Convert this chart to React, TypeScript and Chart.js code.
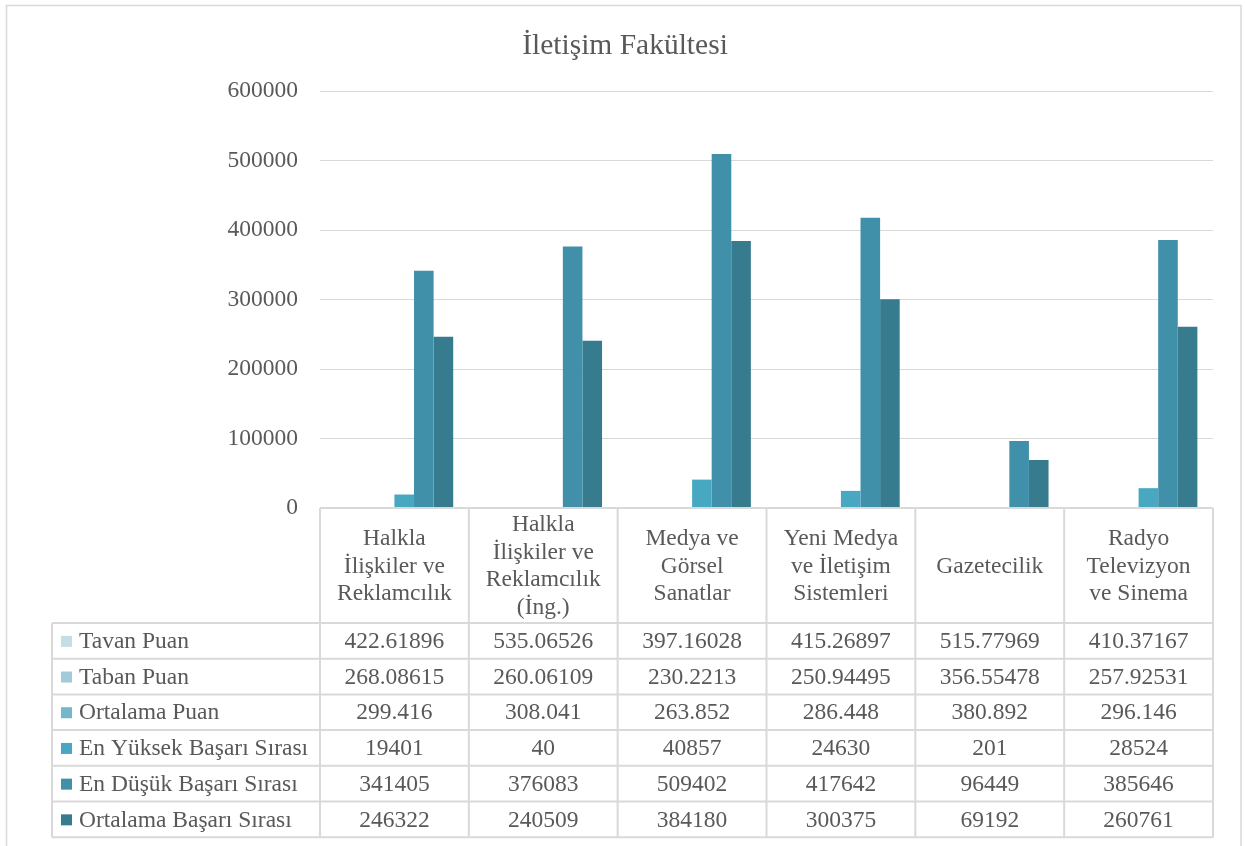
import React, { useEffect, useRef } from "react";
import { Chart, registerables } from "chart.js";

Chart.register(...registerables);

const chartTitle = "İletişim Fakültesi";
const categories: string[][] = [
  ["Halkla", "İlişkiler ve", "Reklamcılık"],
  ["Halkla", "İlişkiler ve", "Reklamcılık", "(İng.)"],
  ["Medya ve", "Görsel", "Sanatlar"],
  ["Yeni Medya", "ve İletişim", "Sistemleri"],
  ["Gazetecilik"],
  ["Radyo", "Televizyon", "ve Sinema"],
];
const seriesNames = [
  "Tavan Puan",
  "Taban Puan",
  "Ortalama Puan",
  "En Yüksek Başarı Sırası",
  "En Düşük Başarı Sırası",
  "Ortalama Başarı Sırası",
];
const tavanPuan = [422.61896, 535.06526, 397.16028, 415.26897, 515.77969, 410.37167];
const tabanPuan = [268.08615, 260.06109, 230.2213, 250.94495, 356.55478, 257.92531];
const ortalamaPuan = [299.416, 308.041, 263.852, 286.448, 380.892, 296.146];
const enYuksekSira = [19401, 40, 40857, 24630, 201, 28524];
const enDusukSira = [341405, 376083, 509402, 417642, 96449, 385646];
const ortalamaSira = [246322, 240509, 384180, 300375, 69192, 260761];
const seriesColors = ["#c5dde4", "#a3cad8", "#74b7cb", "#49a8c1", "#4190aa", "#367b8e"];
const yMin = 0;
const yMax = 600000;
const yStep = 100000;

const seriesValues = [tavanPuan, tabanPuan, ortalamaPuan, enYuksekSira, enDusukSira, ortalamaSira];

const FONT = "'Liberation Serif', 'Times New Roman', serif";
const TEXT = "#595959";
const LINE = "#d9d9d9";
const TABLE_FONT_SIZE = 23.5;

const tablePlugin = {
  id: "dataTable",
  beforeDraw(chart: any) {
    const ctx = chart.ctx;
    ctx.save();
    ctx.fillStyle = "#ffffff";
    ctx.fillRect(0, 0, chart.width, chart.height);
    ctx.restore();
  },
  afterDraw(chart: any) {
    const ctx = chart.ctx as CanvasRenderingContext2D;
    const area = chart.chartArea;
    const xs = chart.scales.x;
    const n = categories.length;
    const colW = (area.right - area.left) / n;
    const top = area.bottom;
    const headerH = 115;
    const rowH = 35.7;
    const legendLeft = 52;
    const bottom = top + headerH + rowH * seriesNames.length;

    ctx.save();
    // outer border
    ctx.strokeStyle = LINE;
    ctx.lineWidth = 1.5;
    ctx.strokeRect(6.5, 5.5, 1234.5, 900);

    // title
    ctx.fillStyle = TEXT;
    ctx.font = `29.5px ${FONT}`;
    ctx.textAlign = "center";
    ctx.textBaseline = "middle";
    ctx.fillText(chartTitle, 625, 46);

    // table lines
    ctx.strokeStyle = LINE;
    ctx.lineWidth = 2;
    ctx.beginPath();
    ctx.moveTo(area.left, top);
    ctx.lineTo(area.right, top);
    for (let r = 0; r <= seriesNames.length; r++) {
      const y = top + headerH + r * rowH;
      ctx.moveTo(legendLeft, y);
      ctx.lineTo(area.right, y);
    }
    ctx.moveTo(legendLeft, top + headerH);
    ctx.lineTo(legendLeft, bottom);
    for (let i = 0; i <= n; i++) {
      const x = area.left + i * colW;
      ctx.moveTo(x, top);
      ctx.lineTo(x, bottom);
    }
    ctx.stroke();

    // header text
    ctx.fillStyle = TEXT;
    ctx.font = `${TABLE_FONT_SIZE}px ${FONT}`;
    ctx.textAlign = "center";
    ctx.textBaseline = "middle";
    const lh = 27.5;
    categories.forEach((lines, i) => {
      const cx = xs.getPixelForValue(i);
      const cy = top + headerH / 2 + 1;
      const start = cy - ((lines.length - 1) * lh) / 2;
      lines.forEach((ln, k) => ctx.fillText(ln, cx, start + k * lh));
    });

    // rows
    seriesNames.forEach((name, r) => {
      const cy = top + headerH + r * rowH + rowH / 2 + 1;
      ctx.fillStyle = seriesColors[r];
      ctx.fillRect(legendLeft + 9, cy - 6, 11, 11);
      ctx.fillStyle = TEXT;
      ctx.textAlign = "left";
      ctx.fillText(name, legendLeft + 27, cy);
      ctx.textAlign = "center";
      seriesValues[r].forEach((v, i) => {
        ctx.fillText(String(v), xs.getPixelForValue(i), cy);
      });
    });
    ctx.restore();
  },
};

export default function App() {
  const ref = useRef<HTMLCanvasElement | null>(null);
  useEffect(() => {
    document.body.style.margin = "0";
    if (!ref.current) return;
    const chart = new Chart(ref.current, {
      type: "bar",
      data: {
        labels: categories,
        datasets: seriesNames.map((name, i) => ({
          label: name,
          data: seriesValues[i],
          backgroundColor: seriesColors[i],
          borderWidth: 0,
          categoryPercentage: 0.79,
          barPercentage: 1,
        })),
      },
      options: {
        responsive: false,
        animation: false,
        layout: { padding: { left: 7, right: 32, top: 91, bottom: 338 } },
        plugins: {
          legend: { display: false },
          title: { display: false },
          tooltip: { enabled: false },
        },
        scales: {
          x: { display: false },
          y: {
            min: yMin,
            max: yMax,
            border: { display: false },
            grid: { color: LINE, lineWidth: 1, drawTicks: false },
            afterFit: (scale: any) => {
              scale.width = 313;
            },
            ticks: {
              stepSize: yStep,
              padding: 22,
              color: TEXT,
              font: { family: FONT, size: 23.5 },
              callback: (v: any) => String(v),
            },
          },
        },
      },
      plugins: [tablePlugin],
    });
    return () => chart.destroy();
  }, []);
  return (
    <canvas ref={ref} width={1245} height={846} style={{ display: "block" }} />
  );
}
